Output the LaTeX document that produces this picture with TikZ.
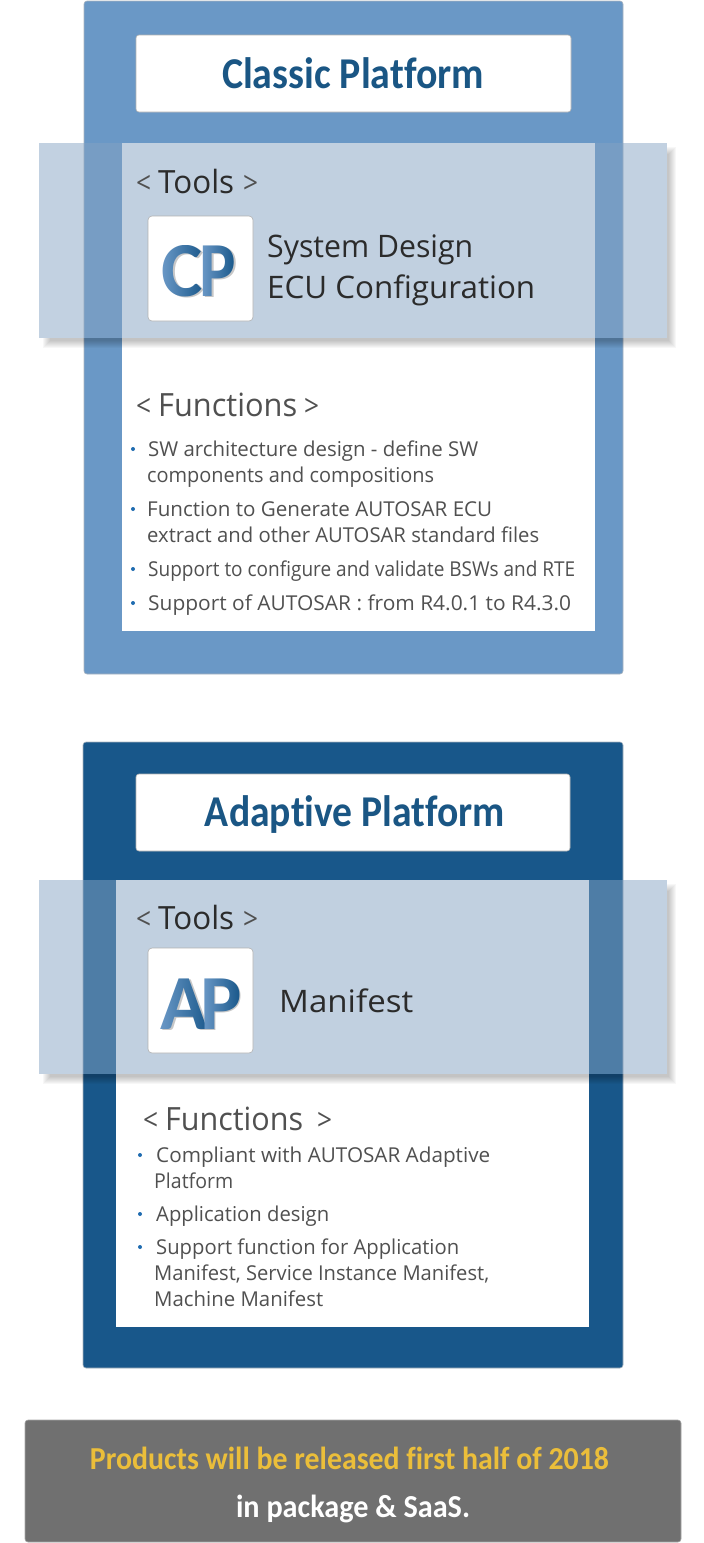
\documentclass[tikz,border=0pt]{standalone}
\usepackage{fontspec}
\setmainfont{Open Sans}
\newfontfamily\boldfont[Ligatures=NoCommon]{Carlito}
\usetikzlibrary{fadings}
\definecolor{cpblue}{HTML}{6A98C6}
\definecolor{apblue}{HTML}{18578A}
\definecolor{bandblue}{HTML}{85A3C3}
\definecolor{titleblue}{HTML}{1A5684}
\definecolor{panelline}{HTML}{A9B4BF}
\definecolor{bodygray}{HTML}{505050}
\definecolor{toolsgray}{HTML}{2B2B2B}
\definecolor{noticegray}{HTML}{707070}
\definecolor{noticeyellow}{HTML}{EBBE3A}
\definecolor{bulletblue}{HTML}{1F6CB0}
\newcommand{\fitline}[2]{\resizebox{#1pt}{\height}{#2}}
\newcommand{\headline}[3]{{\fontsize{30}{30}\selectfont\textcolor{bodygray}{\fitline{15}{<}}}\kern#2pt #1\kern#3pt{\fontsize{30}{30}\selectfont\textcolor{bodygray}{\fitline{15}{>}}}}
\tikzset{
    x=1pt,y=-1pt,
    panelbox/.style={draw=panelline,line width=.6pt,rounded corners=3pt},
    titlebox/.style={draw=black!30,line width=.6pt,fill=white,rounded corners=3pt},
    logobox/.style={draw=black!30,line width=.6pt,fill=white,rounded corners=4pt},
    band/.style={fill=bandblue,fill opacity=.5},
    logoshadow/.style={text=black!22,inner sep=0pt,font=\fontsize{78}{78}\boldfont\bfseries},
    titletxt/.style={anchor=base,inner sep=0pt,text=titleblue,font=\fontsize{44}{44}\boldfont\bfseries},
    headtxt/.style={anchor=base west,inner sep=0pt,text=toolsgray,font=\fontsize{32}{32}\selectfont},
    funchead/.style={headtxt,text=bodygray},
    tooltxt/.style={anchor=base west,inner sep=0pt,text=toolsgray,font=\fontsize{31}{31}\selectfont},
    bodytxt/.style={anchor=base west,inner sep=0pt,text=bodygray,font=\fontsize{20.5}{20.5}\selectfont},
    noticetxt/.style={anchor=base,inner sep=0pt,font=\fontsize{32}{32}\boldfont\bfseries},
    bullet/.style={fill=bulletblue}
}
\begin{tikzfadingfrompicture}[name=fadeC]
    \node[text=transparent!0,inner sep=0pt,font=\fontsize{78}{78}\boldfont\bfseries] (fc) at (0,0) {C};
\end{tikzfadingfrompicture}
\begin{tikzfadingfrompicture}[name=fadeP]
    \node[text=transparent!0,inner sep=0pt,font=\fontsize{78}{78}\boldfont\bfseries] (fp) at (0,0) {P};
\end{tikzfadingfrompicture}
\begin{tikzfadingfrompicture}[name=fadeA]
    \node[text=transparent!0,inner sep=0pt,font=\fontsize{78}{78}\boldfont\bfseries] (fa) at (0,0) {A};
\end{tikzfadingfrompicture}
\begin{document}
\begin{tikzpicture}
    \useasboundingbox (0,0) rectangle (704,1543);
    % classic platform
    \draw[panelbox,fill=cpblue] (84,1) rectangle (623,674);
    \draw[titlebox] (136,35) rectangle (571,112);
    \node[titletxt] (cptitle) at (353,88) {\fitline{262}{Classic Platform}};
    \fill[white] (122,143) rectangle (595,631);
    \begin{scope}[even odd rule]
        \clip (0,0) rectangle (704,1543) (39,143) rectangle (667,338);
        \foreach \g in {0,1,...,7}
            \fill[black,opacity=.03] (43+\g,147+\g) rectangle (676-\g,348-\g);
    \end{scope}
    \fill[band] (39,143) rectangle (667,338);
    \node[headtxt] (cptools) at (136,193) {\headline{\fitline{76}{Tools}}{7}{9}};
    \draw[logobox] (148,216) rectangle (253,321);
    \node[logoshadow] (cpshadc) at (184,272.5) {C};
    \node[logoshadow] (cpshadp) at (219.5,272.5) {\scalebox{.88}[1]{P}};
    \shade[path fading=fadeC,fit fading=false,fading transform={shift={(182.5,271)}},left color=cpblue,right color=apblue] (162,240) rectangle (204,302);
    \shade[path fading=fadeP,fit fading=false,fading transform={shift={(218,271)},xscale=.88},left color=cpblue,right color=apblue] (202,240) rectangle (235,302);
    \node[tooltxt] (cpsys) at (267,257.5) {\fitline{206}{System Design}};
    \node[tooltxt] (cpecu) at (267,298.5) {\fitline{268}{ECU Configuration}};
    \node[funchead] (cpfunc) at (136,416.5) {\headline{\fitline{139}{Functions}}{7}{7}};
    \foreach \ypos in {449,509,569,603}
        \fill[bullet] (133,\ypos) circle (2);
    \node[bodytxt] (cpa) at (148,456) {\fitline{330}{SW architecture design - define SW}};
    \node[bodytxt] (cpb) at (147,482) {\fitline{287}{components and compositions}};
    \node[bodytxt] (cpc) at (147,516) {\fitline{345}{Function to Generate AUTOSAR ECU}};
    \node[bodytxt] (cpd) at (147,542) {\fitline{392}{extract and other AUTOSAR standard files}};
    \node[bodytxt] (cpe) at (148,576) {\fitline{427}{Support to configure and validate BSWs and RTE}};
    \node[bodytxt] (cpf) at (148,610) {\fitline{423}{Support of AUTOSAR : from R4.0.1 to R4.3.0}};
    % adaptive platform
    \draw[panelbox,fill=apblue] (83,742) rectangle (623,1368);
    \draw[titlebox] (136,774) rectangle (570,851);
    \node[titletxt] (aptitle) at (355,826) {\fitline{300}{Adaptive Platform}};
    \fill[white] (116,880) rectangle (589,1327);
    \begin{scope}[even odd rule]
        \clip (0,0) rectangle (704,1543) (39,880) rectangle (667,1074);
        \foreach \g in {0,1,...,7}
            \fill[black,opacity=.03] (43+\g,884+\g) rectangle (676-\g,1084-\g);
    \end{scope}
    \fill[band] (39,880) rectangle (667,1074);
    \node[headtxt] (aptools) at (136,929) {\headline{\fitline{76}{Tools}}{7}{9}};
    \draw[logobox] (148,948) rectangle (253,1053);
    \node[logoshadow] (apshada) at (186,1005.5) {A};
    \node[logoshadow] (apshadp) at (222.5,1005.5) {P};
    \shade[path fading=fadeA,fit fading=false,fading transform={shift={(184.5,1004)}},left color=cpblue,right color=apblue] (160,970) rectangle (210,1036);
    \shade[path fading=fadeP,fit fading=false,fading transform={shift={(221,1004)}},left color=cpblue,right color=apblue] (203,970) rectangle (240,1036);
    \node[tooltxt] (apman) at (279,1012) {\fitline{134}{Manifest}};
    \node[funchead] (apfunc) at (143,1130) {\headline{\fitline{138}{Functions}}{7}{14}};
    \foreach \ypos in {1155,1214,1247}
        \fill[bullet] (140,\ypos) circle (2);
    \node[bodytxt] (apa) at (156,1162) {\fitline{334}{Compliant with AUTOSAR Adaptive}};
    \node[bodytxt] (apb) at (154,1188) {\fitline{79}{Platform}};
    \node[bodytxt] (apc) at (156,1221) {\fitline{173}{Application design}};
    \node[bodytxt] (apd) at (156,1254) {\fitline{303}{Support function for Application}};
    \node[bodytxt] (ape) at (154,1280) {\fitline{335}{Manifest, Service Instance Manifest,}};
    \node[bodytxt] (apf) at (154,1306) {\fitline{169}{Machine Manifest}};
    % release notice
    \draw[draw=black!35,line width=.6pt,fill=noticegray,rounded corners=3pt] (25,1420) rectangle (681,1542);
    \node[noticetxt,text=noticeyellow] (noticea) at (349.5,1469) {\fitline{519}{Products will be released first half of 2018}};
    \node[noticetxt,text=white] (noticeb) at (353,1517) {\fitline{234}{in package \& SaaS.}};
\end{tikzpicture}
\end{document}
